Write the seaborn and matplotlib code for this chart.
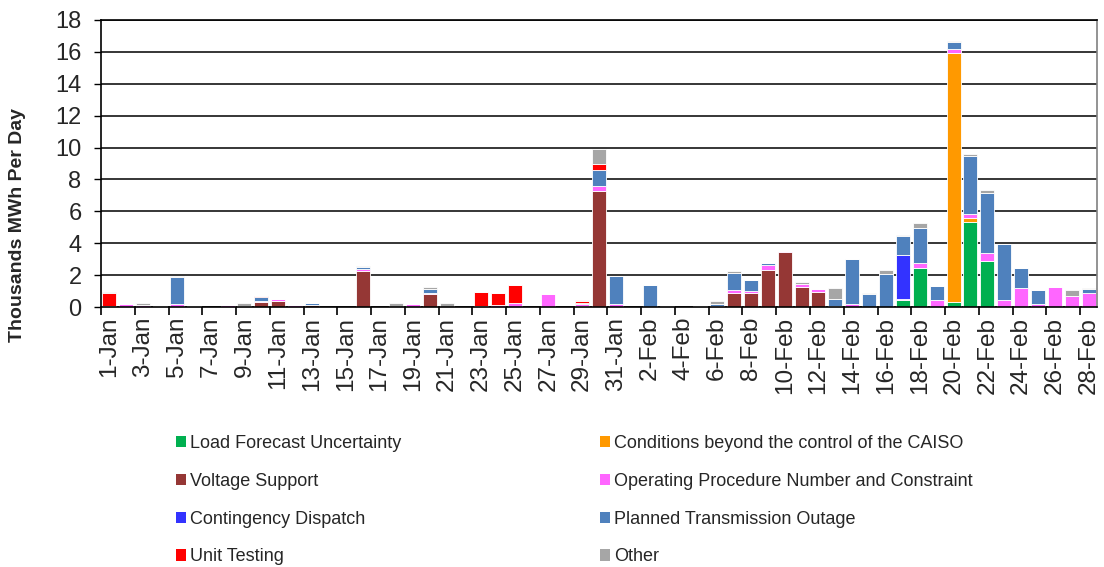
import matplotlib
matplotlib.use("Agg")
import matplotlib.pyplot as plt
from matplotlib.patches import Patch
import pandas as pd
import seaborn as sns

# Category axis: one bar per day, 1-Jan .. 28-Feb
days = [f"{d}-Jan" for d in range(1, 32)] + [f"{d}-Feb" for d in range(1, 29)]

# Daily exceptional dispatch volumes (thousands of MWh) by reason
load_forecast = [
    0.05, 0, 0, 0, 0, 0, 0, 0, 0, 0,
    0, 0, 0, 0, 0, 0, 0, 0, 0, 0,
    0, 0, 0, 0, 0, 0, 0, 0, 0.05, 0,
    0, 0, 0, 0, 0, 0, 0, 0, 0, 0,
    0, 0, 0, 0, 0, 0, 0, 0.45, 2.45, 0,
    0.3, 5.3, 2.9, 0, 0, 0, 0, 0, 0,
]
beyond_control = [
    0, 0, 0, 0, 0, 0, 0, 0, 0, 0,
    0, 0, 0, 0, 0, 0, 0, 0, 0, 0,
    0, 0, 0, 0, 0, 0, 0, 0, 0, 0,
    0, 0, 0, 0, 0, 0, 0, 0, 0, 0,
    0, 0, 0, 0, 0, 0, 0, 0, 0, 0,
    15.65, 0.3, 0, 0, 0, 0, 0, 0, 0,
]
voltage_support = [
    0, 0, 0, 0.06, 0, 0, 0, 0, 0, 0.29,
    0.36, 0, 0.13, 0, 0, 2.23, 0, 0, 0, 0.79,
    0, 0, 0, 0, 0, 0, 0, 0, 0, 7.3,
    0, 0, 0, 0, 0, 0, 0, 0.85, 0.89, 2.34,
    3.45, 1.23, 0.94, 0, 0, 0, 0, 0, 0, 0,
    0, 0, 0, 0, 0, 0, 0, 0, 0,
]
operating_procedure = [
    0, 0.19, 0.15, 0, 0.2, 0.05, 0, 0.13, 0.06, 0.08,
    0.12, 0.13, 0, 0, 0, 0.13, 0, 0, 0.19, 0.08,
    0, 0, 0.05, 0.13, 0.25, 0.03, 0.83, 0, 0.15, 0.28,
    0.19, 0, 0, 0, 0, 0.05, 0.04, 0.23, 0.13, 0.32,
    0.04, 0.19, 0.17, 0.06, 0.17, 0, 0, 0.06, 0.3, 0.44,
    0.23, 0.21, 0.46, 0.44, 1.18, 0.17, 1.24, 0.7, 0.86,
]
contingency = [
    0, 0, 0, 0, 0, 0, 0, 0, 0, 0,
    0, 0, 0, 0, 0, 0, 0, 0, 0, 0,
    0, 0, 0, 0, 0, 0, 0, 0, 0, 0,
    0, 0, 0, 0, 0, 0, 0, 0, 0, 0,
    0, 0, 0, 0, 0, 0, 0, 2.76, 0, 0,
    0, 0, 0, 0, 0, 0, 0, 0, 0,
]
planned_outage = [
    0, 0, 0, 0, 1.7, 0, 0, 0, 0, 0.25,
    0, 0, 0.1, 0, 0, 0.17, 0, 0, 0, 0.26,
    0, 0, 0, 0, 0, 0, 0, 0, 0.04, 1.0,
    1.74, 0, 1.4, 0, 0, 0, 0.14, 1.06, 0.68, 0.13,
    0, 0, 0, 0.45, 2.82, 0.84, 2.1, 1.18, 2.23, 0.86,
    0.44, 3.68, 3.77, 3.5, 1.26, 0.88, 0, 0, 0.3,
]
unit_testing = [
    0.8, 0, 0, 0, 0, 0, 0, 0, 0, 0.04,
    0, 0, 0, 0, 0, 0, 0, 0, 0, 0,
    0, 0, 0.9, 0.77, 1.13, 0, 0, 0, 0.12, 0.4,
    0, 0, 0, 0, 0, 0, 0, 0, 0, 0,
    0, 0, 0, 0, 0, 0, 0, 0, 0, 0,
    0, 0, 0, 0, 0, 0, 0, 0, 0,
]
other = [
    0.06, 0, 0.08, 0, 0.05, 0, 0, 0, 0.2, 0,
    0, 0, 0, 0, 0, 0.05, 0, 0.23, 0, 0.15,
    0.25, 0, 0, 0, 0, 0, 0, 0, 0.1, 0.91,
    0, 0, 0, 0.04, 0, 0, 0.2, 0.13, 0, 0,
    0, 0.17, 0, 0.7, 0, 0.06, 0.21, 0.06, 0.3, 0,
    0.08, 0.08, 0.19, 0, 0, 0, 0, 0.34, 0.06,
]

# Bottom-to-top stacking order
categories = [
    "Load Forecast Uncertainty",
    "Conditions beyond the control of the CAISO",
    "Voltage Support",
    "Operating Procedure Number and Constraint",
    "Contingency Dispatch",
    "Planned Transmission Outage",
    "Unit Testing",
    "Other",
]
series = [load_forecast, beyond_control, voltage_support, operating_procedure,
          contingency, planned_outage, unit_testing, other]
colors = ["#00B050", "#FF9900", "#953735", "#FF66FF",
          "#3333FF", "#4F81BD", "#FF0000", "#A6A6A6"]
palette = dict(zip(categories, colors))

rows = []
for name, vals in zip(categories, series):
    for i, v in enumerate(vals):
        rows.append({"pos": i + 1, "category": name, "mwh": v})
df = pd.DataFrame(rows)

sns.set_theme(style="white")
plt.rcParams["font.family"] = ["Liberation Sans", "DejaVu Sans"]

fig = plt.figure(figsize=(11.04, 5.67), dpi=100)
ax = fig.add_axes([101 / 1104, 1 - 307 / 567, 996 / 1104, 287 / 567])

# seaborn stacks the last hue level at the bottom
sns.histplot(data=df, x="pos", weights="mwh", hue="category",
             hue_order=categories[::-1], palette=palette,
             multiple="stack", discrete=True, shrink=0.83, alpha=1,
             edgecolor="white", linewidth=0.6, legend=False, ax=ax)

ax.set_xlim(0.5, len(days) + 0.5)
ax.set_ylim(0, 18)
ax.set_yticks(range(0, 19, 2))
ax.set_axisbelow(True)
ax.yaxis.grid(True, color="black", linewidth=1.1)
ax.xaxis.grid(False)

# tick marks sit between categories, labels on every other day
ax.set_xticks([p + 0.5 for p in range(0, len(days), 2)])
ax.set_xticklabels([])
ax.set_xticks(list(range(1, len(days) + 1, 2)), minor=True)
ax.set_xticklabels(days[::2], minor=True, rotation=90, fontsize=17.5)
ax.tick_params(axis="x", which="major", length=6, width=1.2, color="black",
               direction="out", bottom=True)
ax.tick_params(axis="x", which="minor", length=0, pad=7, bottom=True)
ax.tick_params(axis="y", length=5, width=1.0, color="black", direction="out",
               left=True, pad=9, labelsize=17)

ax.set_xlabel("")
ax.set_ylabel("")
for side in ["left", "bottom", "top"]:
    ax.spines[side].set_color("black")
    ax.spines[side].set_linewidth(1.2)
ax.spines["right"].set_color("#808080")
ax.spines["right"].set_linewidth(1.2)

fig.text(18 / 1104, 1 - 225 / 567, "Thousands MWh Per Day", rotation=90,
         ha="center", va="center", fontsize=14, fontweight="bold")

# legend filled column-wise: left column then right column
order = [0, 2, 4, 6, 1, 3, 5, 7]
handles = [Patch(facecolor=colors[i], edgecolor="none", label=categories[i])
           for i in order]
fig.legend(handles=handles, loc="upper left",
           bbox_to_anchor=(176 / 1104, 1 - 435 / 567), ncol=2, frameon=False,
           fontsize=13, handlelength=0.58, handleheight=0.58,
           handletextpad=0.22, columnspacing=10.97, labelspacing=1.15,
           borderpad=0, borderaxespad=0)

fig.savefig("out.png", dpi=100)
